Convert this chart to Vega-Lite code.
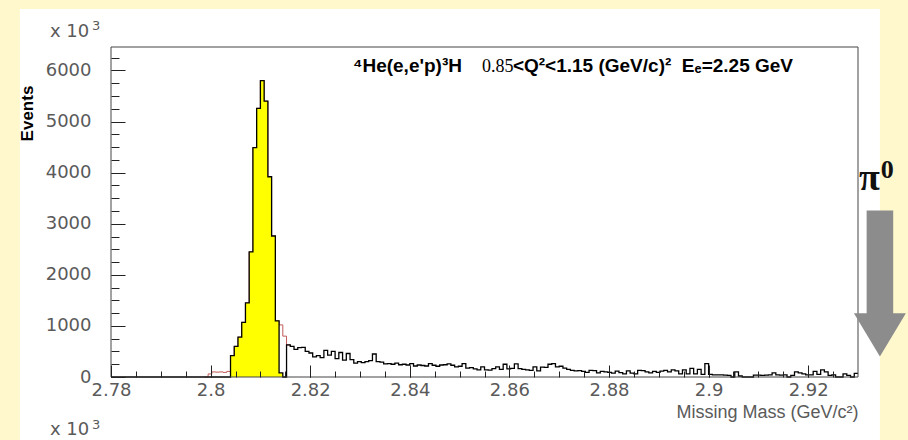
{
  "$schema": "https://vega.github.io/schema/vega-lite/v6.json",
  "width": 747,
  "height": 330,
  "autosize": {"type": "none"},
  "padding": {"left": 111, "top": 47, "right": 50, "bottom": 63},
  "background": "#FFF8CC",
  "config": {"view": {"stroke": null}},
  "datasets": {
    "hist": [
      {"x":2.78,"n":0},{"x":2.78075,"n":0},{"x":2.7815,"n":0},{"x":2.78225,"n":0},{"x":2.783,"n":0},{"x":2.78375,"n":0},{"x":2.7845,"n":0},{"x":2.78525,"n":0},
      {"x":2.786,"n":0},{"x":2.78675,"n":0},{"x":2.7875,"n":0},{"x":2.78825,"n":0},{"x":2.789,"n":0},{"x":2.78975,"n":0},{"x":2.7905,"n":0},{"x":2.79125,"n":0},
      {"x":2.792,"n":0},{"x":2.79275,"n":0},{"x":2.7935,"n":0},{"x":2.79425,"n":0},{"x":2.795,"n":0},{"x":2.79575,"n":0},{"x":2.7965,"n":0},{"x":2.79725,"n":0},
      {"x":2.798,"n":0},{"x":2.79875,"n":0},{"x":2.7995,"n":0},{"x":2.80025,"n":0},{"x":2.801,"n":0},{"x":2.80175,"n":0},{"x":2.8025,"n":0},{"x":2.80325,"n":0},
      {"x":2.804,"n":420},{"x":2.80475,"n":600},{"x":2.8055,"n":780},{"x":2.80625,"n":1070},{"x":2.807,"n":1450},{"x":2.80775,"n":2450},{"x":2.8085,"n":4490},{"x":2.80925,"n":5260},
      {"x":2.81,"n":5800},{"x":2.81075,"n":5400},{"x":2.8115,"n":3920},{"x":2.81225,"n":2760},{"x":2.813,"n":1100},{"x":2.81375,"n":80},{"x":2.8145,"n":0},{"x":2.81525,"n":627},
      {"x":2.816,"n":600},{"x":2.81675,"n":540},{"x":2.8175,"n":575},{"x":2.81825,"n":580},{"x":2.819,"n":500},{"x":2.81975,"n":470},{"x":2.8205,"n":395},{"x":2.82125,"n":420},
      {"x":2.822,"n":380},{"x":2.82275,"n":520},{"x":2.8235,"n":430},{"x":2.82425,"n":500},{"x":2.825,"n":360},{"x":2.82575,"n":480},{"x":2.8265,"n":330},{"x":2.82725,"n":460},
      {"x":2.828,"n":340},{"x":2.82875,"n":270},{"x":2.8295,"n":300},{"x":2.83025,"n":280},{"x":2.831,"n":300},{"x":2.83175,"n":320},{"x":2.8325,"n":450},{"x":2.83325,"n":300},
      {"x":2.834,"n":290},{"x":2.83475,"n":255},{"x":2.8355,"n":260},{"x":2.83625,"n":250},{"x":2.837,"n":270},{"x":2.83775,"n":240},{"x":2.8385,"n":250},{"x":2.83925,"n":235},
      {"x":2.84,"n":260},{"x":2.84075,"n":215},{"x":2.8415,"n":235},{"x":2.84225,"n":225},{"x":2.843,"n":215},{"x":2.84375,"n":260},{"x":2.8445,"n":230},{"x":2.84525,"n":210},
      {"x":2.846,"n":235},{"x":2.84675,"n":240},{"x":2.8475,"n":255},{"x":2.84825,"n":230},{"x":2.849,"n":200},{"x":2.84975,"n":210},{"x":2.8505,"n":260},{"x":2.85125,"n":175},
      {"x":2.852,"n":185},{"x":2.85275,"n":160},{"x":2.8535,"n":140},{"x":2.85425,"n":200},{"x":2.855,"n":140},{"x":2.85575,"n":135},{"x":2.8565,"n":165},{"x":2.85725,"n":200},
      {"x":2.858,"n":150},{"x":2.85875,"n":250},{"x":2.8595,"n":160},{"x":2.86025,"n":170},{"x":2.861,"n":255},{"x":2.86175,"n":165},{"x":2.8625,"n":150},{"x":2.86325,"n":140},
      {"x":2.864,"n":130},{"x":2.86475,"n":200},{"x":2.8655,"n":120},{"x":2.86625,"n":195},{"x":2.867,"n":190},{"x":2.86775,"n":250},{"x":2.8685,"n":260},{"x":2.86925,"n":200},
      {"x":2.87,"n":210},{"x":2.87075,"n":175},{"x":2.8715,"n":150},{"x":2.87225,"n":130},{"x":2.873,"n":120},{"x":2.87375,"n":125},{"x":2.8745,"n":110},{"x":2.87525,"n":90},
      {"x":2.876,"n":130},{"x":2.87675,"n":125},{"x":2.8775,"n":80},{"x":2.87825,"n":110},{"x":2.879,"n":100},{"x":2.87975,"n":90},{"x":2.8805,"n":75},{"x":2.88125,"n":115},
      {"x":2.882,"n":85},{"x":2.88275,"n":60},{"x":2.8835,"n":120},{"x":2.88425,"n":75},{"x":2.885,"n":60},{"x":2.88575,"n":130},{"x":2.8865,"n":125},{"x":2.88725,"n":100},
      {"x":2.888,"n":80},{"x":2.88875,"n":110},{"x":2.8895,"n":90},{"x":2.89025,"n":115},{"x":2.891,"n":130},{"x":2.89175,"n":100},{"x":2.8925,"n":140},{"x":2.89325,"n":120},
      {"x":2.894,"n":60},{"x":2.89475,"n":140},{"x":2.8955,"n":60},{"x":2.89625,"n":170},{"x":2.897,"n":60},{"x":2.89775,"n":150},{"x":2.8985,"n":50},{"x":2.89925,"n":260},
      {"x":2.9,"n":50},{"x":2.90075,"n":40},{"x":2.9015,"n":40},{"x":2.90225,"n":40},{"x":2.903,"n":35},{"x":2.90375,"n":30},{"x":2.9045,"n":0},{"x":2.90525,"n":100},
      {"x":2.906,"n":20},{"x":2.90675,"n":0},{"x":2.9075,"n":0},{"x":2.90825,"n":0},{"x":2.909,"n":35},{"x":2.90975,"n":35},{"x":2.9105,"n":30},{"x":2.91125,"n":35},
      {"x":2.912,"n":40},{"x":2.91275,"n":80},{"x":2.9135,"n":40},{"x":2.91425,"n":35},{"x":2.915,"n":40},{"x":2.91575,"n":0},{"x":2.9165,"n":30},{"x":2.91725,"n":100},
      {"x":2.918,"n":80},{"x":2.91875,"n":60},{"x":2.9195,"n":40},{"x":2.92025,"n":40},{"x":2.921,"n":110},{"x":2.92175,"n":50},{"x":2.9225,"n":140},{"x":2.92325,"n":100},
      {"x":2.924,"n":30},{"x":2.92475,"n":40},{"x":2.9255,"n":0},{"x":2.92625,"n":0},{"x":2.927,"n":60},{"x":2.92775,"n":30},{"x":2.9285,"n":0},{"x":2.92925,"n":70},
      {"x":2.93,"n":70}
    ],
    "red": [
      {"x":2.79875,"n":0},{"x":2.7995,"n":60},{"x":2.80025,"n":100},{"x":2.801,"n":95},{"x":2.80175,"n":100},{"x":2.8025,"n":90},{"x":2.80325,"n":110},
      {"x":2.804,"n":420},{"x":2.80475,"n":600},{"x":2.8055,"n":780},{"x":2.80625,"n":1070},{"x":2.807,"n":1450},{"x":2.80775,"n":2450},{"x":2.8085,"n":4490},{"x":2.80925,"n":5260},
      {"x":2.81,"n":5800},{"x":2.81075,"n":5400},{"x":2.8115,"n":3920},{"x":2.81225,"n":2760},{"x":2.813,"n":1100},{"x":2.81375,"n":1020},{"x":2.8145,"n":800},{"x":2.81525,"n":627},
      {"x":2.816,"n":600}
    ]
  },
  "resolve": {"axis": {"x": "independent", "y": "independent"}},
  "layer": [
    {
      "data": {"values": [{}]},
      "mark": {"type": "rect", "fill": "#ffffff"},
      "encoding": {
        "x": {"datum": 2.7617, "type": "quantitative", "axis": null, "scale": {"domain": [2.78, 2.93], "nice": false, "zero": false}},
        "x2": {"datum": 2.9344},
        "y": {"datum": 7204, "type": "quantitative", "axis": null, "scale": {"domain": [0, 6460], "nice": false, "zero": false}},
        "y2": {"datum": -1400}
      }
    },
    {
      "data": {"name": "red"},
      "mark": {"type": "line", "interpolate": "step-after", "color": "#c05a5a", "strokeWidth": 1},
      "encoding": {
        "x": {"field": "x", "type": "quantitative", "scale": {"domain": [2.78, 2.93], "nice": false, "zero": false},
          "axis": {"orient": "bottom", "values": [2.78,2.785,2.79,2.795,2.8,2.805,2.81,2.815,2.82,2.825,2.83,2.835,2.84,2.845,2.85,2.855,2.86,2.865,2.87,2.875,2.88,2.885,2.89,2.895,2.9,2.905,2.91,2.915,2.92,2.925],
            "labels": false, "domain": false, "grid": false, "tickSize": -6, "tickColor": "#222", "tickWidth": 1, "title": null, "zindex": 2}},
        "y": {"field": "n", "type": "quantitative", "scale": {"domain": [0, 6460], "nice": false, "zero": false},
          "axis": {"orient": "left", "values": [0,250,500,750,1000,1250,1500,1750,2000,2250,2500,2750,3000,3250,3500,3750,4000,4250,4500,4750,5000,5250,5500,5750,6000,6250],
            "labels": false, "domain": false, "grid": false, "tickSize": -8, "tickColor": "#222", "tickWidth": 1, "title": null, "zindex": 2}}
      }
    },
    {
      "data": {"name": "hist"},
      "transform": [{"filter": "datum.x >= 2.8039 && datum.x <= 2.8146"}],
      "mark": {"type": "area", "interpolate": "step-after", "color": "#FFFF00", "opacity": 1},
      "encoding": {
        "x": {"field": "x", "type": "quantitative", "axis": null},
        "y": {"field": "n", "type": "quantitative", "axis": null}
      }
    },
    {
      "data": {"name": "hist"},
      "mark": {"type": "line", "interpolate": "step-after", "color": "#000000", "strokeWidth": 1.3},
      "encoding": {
        "x": {"field": "x", "type": "quantitative", "scale": {"domain": [2.78, 2.93], "nice": false, "zero": false},
          "axis": {"orient": "bottom", "values": [2.78,2.8,2.82,2.84,2.86,2.88,2.9,2.92], "format": ".3~g",
            "domain": false, "grid": false, "tickSize": -12, "tickColor": "#222", "tickWidth": 1,
            "labelFont": "DejaVu Sans", "labelFontSize": 18, "labelColor": "#5a5a5a", "labelPadding": 16, "labelFlush": false, "labelOverlap": false,
            "title": "Missing Mass (GeV/c²)", "titleFont": "Liberation Sans", "titleFontSize": 18, "titleFontWeight": "normal", "titleColor": "#5a5a5a",
            "titleAlign": "right", "titleBaseline": "alphabetic", "titleX": 747, "titleY": 40, "zindex": 2}},
        "y": {"field": "n", "type": "quantitative", "scale": {"domain": [0, 6460], "nice": false, "zero": false},
          "axis": {"orient": "left", "values": [0,1000,2000,3000,4000,5000,6000], "format": "d",
            "domain": false, "grid": false, "tickSize": -14, "tickColor": "#222", "tickWidth": 1,
            "labelFont": "DejaVu Sans", "labelFontSize": 18, "labelColor": "#5a5a5a", "labelPadding": 34, "labelFlush": false, "labelOverlap": false,
            "title": "Events", "titleFont": "Liberation Sans", "titleFontSize": 17, "titleFontWeight": "bold", "titleColor": "#000000",
            "titleAngle": 270, "titleAlign": "center", "titleBaseline": "middle", "titleX": -84, "titleY": 66, "zindex": 2}}
      }
    },
    {
      "data": {"values": [{}]},
      "mark": {"type": "rect", "fill": "transparent", "stroke": "#444444", "strokeWidth": 1},
      "encoding": {
        "x": {"datum": 2.78, "type": "quantitative", "axis": null},
        "x2": {"datum": 2.93},
        "y": {"datum": 0, "type": "quantitative", "axis": null},
        "y2": {"datum": 6460}
      }
    },
    {
      "data": {"values": [{}]},
      "mark": {"type": "text", "text": "⁴He(e,e'p)³H", "font": "Liberation Sans", "fontSize": 19, "fontWeight": "bold", "align": "left", "baseline": "alphabetic", "color": "#000000"},
      "encoding": {
        "x": {"datum": 2.8286, "type": "quantitative", "axis": null},
        "y": {"datum": 5971, "type": "quantitative", "axis": null}
      }
    },
    {
      "data": {"values": [{}]},
      "mark": {"type": "text", "text": "0.85", "font": "Liberation Serif", "fontSize": 18, "fontWeight": "normal", "align": "left", "baseline": "alphabetic", "color": "#000000"},
      "encoding": {
        "x": {"datum": 2.8545, "type": "quantitative", "axis": null},
        "y": {"datum": 5971, "type": "quantitative", "axis": null}
      }
    },
    {
      "data": {"values": [{}]},
      "mark": {"type": "text", "text": "<Q²<1.15 (GeV/c)²\u00a0 Eₑ=2.25 GeV", "font": "Liberation Sans", "fontSize": 19, "fontWeight": "bold", "align": "left", "baseline": "alphabetic", "color": "#000000"},
      "encoding": {
        "x": {"datum": 2.8607, "type": "quantitative", "axis": null},
        "y": {"datum": 5971, "type": "quantitative", "axis": null}
      }
    },
    {
      "data": {"values": [{}]},
      "mark": {"type": "text", "text": "x 10", "font": "DejaVu Sans", "fontSize": 18, "align": "left", "baseline": "alphabetic", "color": "#5a5a5a"},
      "encoding": {
        "x": {"datum": 2.76775, "type": "quantitative", "axis": null},
        "y": {"datum": 6662, "type": "quantitative", "axis": null}
      }
    },
    {
      "data": {"values": [{}]},
      "mark": {"type": "text", "text": "3", "font": "DejaVu Sans", "fontSize": 13, "align": "left", "baseline": "alphabetic", "color": "#5a5a5a"},
      "encoding": {
        "x": {"datum": 2.7762, "type": "quantitative", "axis": null},
        "y": {"datum": 6793, "type": "quantitative", "axis": null}
      }
    },
    {
      "data": {"values": [{}]},
      "mark": {"type": "text", "text": "x 10", "font": "DejaVu Sans", "fontSize": 18, "align": "left", "baseline": "alphabetic", "color": "#5a5a5a"},
      "encoding": {
        "x": {"datum": 2.76775, "type": "quantitative", "axis": null},
        "y": {"datum": -1135, "type": "quantitative", "axis": null}
      }
    },
    {
      "data": {"values": [{}]},
      "mark": {"type": "text", "text": "3", "font": "DejaVu Sans", "fontSize": 13, "align": "left", "baseline": "alphabetic", "color": "#5a5a5a"},
      "encoding": {
        "x": {"datum": 2.7762, "type": "quantitative", "axis": null},
        "y": {"datum": -1018, "type": "quantitative", "axis": null}
      }
    },
    {
      "data": {"values": [{}]},
      "mark": {"type": "point", "shape": "M-0.182,-1L0.182,-1L0.182,0.405L0.356,0.405L0,1L-0.356,0.405L-0.182,0.405Z", "size": 21316, "filled": true, "fill": "#8c8c8c", "opacity": 1, "strokeWidth": 0},
      "encoding": {
        "x": {"datum": 2.9344, "type": "quantitative", "axis": null},
        "y": {"datum": 1828, "type": "quantitative", "axis": null}
      }
    },
    {
      "data": {"values": [{}]},
      "mark": {"type": "text", "text": "π", "font": "Liberation Serif", "fontSize": 38, "fontWeight": "bold", "align": "left", "baseline": "alphabetic", "color": "#111111"},
      "encoding": {
        "x": {"datum": 2.9302, "type": "quantitative", "axis": null},
        "y": {"datum": 3661, "type": "quantitative", "axis": null}
      }
    },
    {
      "data": {"values": [{}]},
      "mark": {"type": "text", "text": "0", "font": "Liberation Serif", "fontSize": 26, "fontWeight": "bold", "align": "left", "baseline": "alphabetic", "color": "#111111"},
      "encoding": {
        "x": {"datum": 2.93456, "type": "quantitative", "axis": null},
        "y": {"datum": 3896, "type": "quantitative", "axis": null}
      }
    }
  ]
}
